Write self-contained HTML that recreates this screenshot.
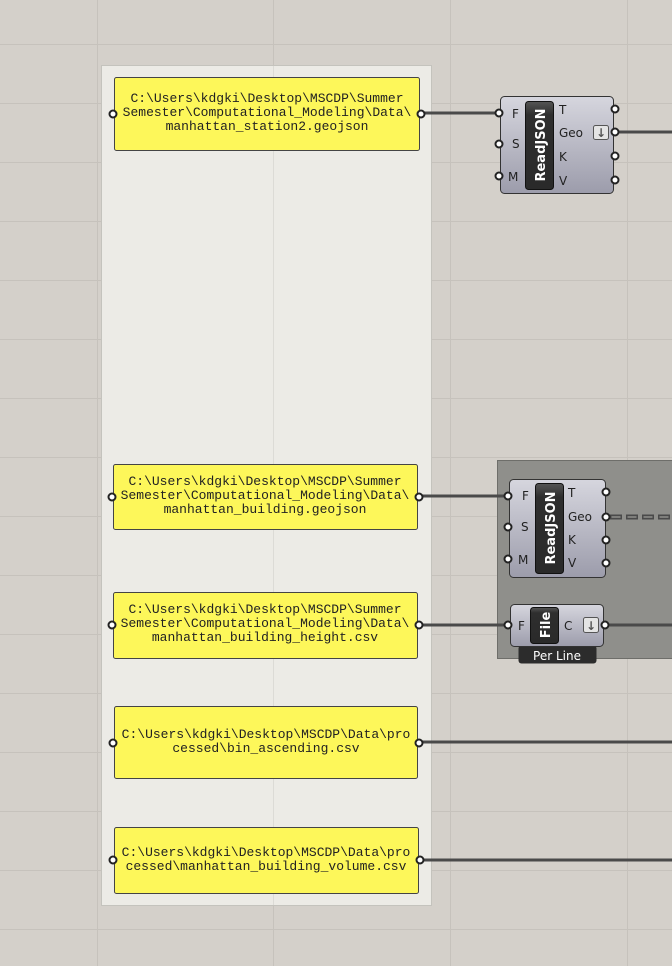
<!DOCTYPE html>
<html><head><meta charset="utf-8"><style>
html,body{margin:0;padding:0;background:#d4d0ca;}
svg{display:block}
.m{font-family:"Liberation Mono",monospace;font-size:13px;fill:#222}
.s{font-family:"DejaVu Sans","Liberation Sans",sans-serif;font-size:12px;fill:#222}
.w{font-family:"DejaVu Sans","Liberation Sans",sans-serif;font-weight:bold;font-size:13px;fill:#fff}
</style></head><body>
<svg width="672" height="966" viewBox="0 0 672 966" xmlns="http://www.w3.org/2000/svg">
<defs>
<linearGradient id="cg" x1="0" y1="0" x2="0" y2="1"><stop offset="0" stop-color="#d6d6de"/><stop offset="1" stop-color="#9c9cab"/></linearGradient>
<linearGradient id="bg" x1="0" y1="0" x2="0" y2="1"><stop offset="0" stop-color="#555"/><stop offset="0.15" stop-color="#2e2e2e"/><stop offset="1" stop-color="#2a2a2a"/></linearGradient>
</defs>
<rect width="672" height="966" fill="#d4d0ca"/>
<g stroke="#c6c2bc" stroke-width="1">
<line x1="0" y1="44.5" x2="672" y2="44.5"/><line x1="0" y1="103.5" x2="672" y2="103.5"/><line x1="0" y1="162.5" x2="672" y2="162.5"/><line x1="0" y1="221.5" x2="672" y2="221.5"/><line x1="0" y1="280.5" x2="672" y2="280.5"/><line x1="0" y1="339.5" x2="672" y2="339.5"/><line x1="0" y1="398.5" x2="672" y2="398.5"/><line x1="0" y1="457.5" x2="672" y2="457.5"/><line x1="0" y1="516.5" x2="672" y2="516.5"/><line x1="0" y1="575.5" x2="672" y2="575.5"/><line x1="0" y1="634.5" x2="672" y2="634.5"/><line x1="0" y1="693.5" x2="672" y2="693.5"/><line x1="0" y1="752.5" x2="672" y2="752.5"/><line x1="0" y1="811.5" x2="672" y2="811.5"/><line x1="0" y1="870.5" x2="672" y2="870.5"/><line x1="0" y1="929.5" x2="672" y2="929.5"/>
<line x1="97.5" y1="0" x2="97.5" y2="966"/><line x1="273.5" y1="0" x2="273.5" y2="966"/><line x1="450.5" y1="0" x2="450.5" y2="966"/><line x1="627.5" y1="0" x2="627.5" y2="966"/>
</g>
<rect x="101.5" y="65.5" width="330" height="840" fill="#ecebe6" stroke="#c4c3bd"/>
<line x1="273.5" y1="66" x2="273.5" y2="905" stroke="#dcdbd6"/>
<rect x="497.5" y="460.5" width="180" height="198" fill="#8f8f8b" stroke="#6e6e6a"/>
<g stroke="#4a4a4a" stroke-width="3" fill="none">
<path d="M422 113 L496 113"/>
<path d="M616 132 L672 132"/>
<path d="M420 496 L505 496"/>
<path d="M420 625 L506 625"/>
<path d="M605 625 L672 625"/>
<path d="M420 742 L672 742"/>
<path d="M421 860 L672 860"/>
</g>
<path d="M610 517 L672 517" stroke="#4a4a4a" stroke-width="5" stroke-dasharray="12 4" fill="none"/>
<path d="M610 517 L672 517" stroke="#8f8f8b" stroke-width="1.6" stroke-dasharray="9 7" stroke-dashoffset="-1.5" fill="none"/>
<g fill="#fdf75a" stroke="#444" stroke-width="1">
<rect x="114.5" y="77.5" width="305" height="73" rx="2"/>
<rect x="113.5" y="464.5" width="304" height="65" rx="2"/>
<rect x="113.5" y="592.5" width="304" height="66" rx="2"/>
<rect x="114.5" y="706.5" width="303" height="72" rx="2"/>
<rect x="114.5" y="827.5" width="304" height="66" rx="2"/>
</g>
<g fill="#fff" stroke="#222" stroke-width="2">
<circle cx="113" cy="114" r="3.5"/><circle cx="421" cy="114" r="3.5"/>
<circle cx="112" cy="497" r="3.5"/><circle cx="419" cy="497" r="3.5"/>
<circle cx="112" cy="625" r="3.5"/><circle cx="419" cy="625" r="3.5"/>
<circle cx="113" cy="743" r="3.5"/><circle cx="419" cy="743" r="3.5"/>
<circle cx="113" cy="860" r="3.5"/><circle cx="420" cy="860" r="3.5"/>
</g>
<g class="m" text-anchor="middle">
<text x="267" y="102">C:\Users\kdgki\Desktop\MSCDP\Summer</text>
<text x="267" y="116">Semester\Computational_Modeling\Data\</text>
<text x="267" y="130">manhattan_station2.geojson</text>
<text x="265" y="485">C:\Users\kdgki\Desktop\MSCDP\Summer</text>
<text x="265" y="499">Semester\Computational_Modeling\Data\</text>
<text x="265" y="513">manhattan_building.geojson</text>
<text x="265" y="613">C:\Users\kdgki\Desktop\MSCDP\Summer</text>
<text x="265" y="627">Semester\Computational_Modeling\Data\</text>
<text x="265" y="641">manhattan_building_height.csv</text>
<text x="266" y="738">C:\Users\kdgki\Desktop\MSCDP\Data\pro</text>
<text x="266" y="752">cessed\bin_ascending.csv</text>
<text x="266" y="856">C:\Users\kdgki\Desktop\MSCDP\Data\pro</text>
<text x="266" y="870">cessed\manhattan_building_volume.csv</text>
</g>
<rect x="500.5" y="96.5" width="113" height="97" rx="4" fill="url(#cg)" stroke="#333"/>
<rect x="525.5" y="101.5" width="28" height="88" rx="3" fill="url(#bg)" stroke="#111"/>
<text class="w" transform="translate(545,145) rotate(-90)" text-anchor="middle">ReadJSON</text>
<g class="s"><text x="512" y="118">F</text><text x="512" y="148">S</text><text x="508" y="181">M</text>
<text x="559" y="114">T</text><text x="559" y="137">Geo</text><text x="559" y="161">K</text><text x="559" y="185">V</text></g>
<rect x="593.5" y="125.5" width="15" height="14" rx="2" fill="#e4e4e4" stroke="#555"/>
<text x="601" y="137" text-anchor="middle" font-family="DejaVu Sans" font-size="12" font-weight="bold" fill="#555">↓</text>
<g fill="#fff" stroke="#222" stroke-width="2">
<circle cx="499" cy="113" r="3.5"/><circle cx="499" cy="144" r="3.5"/><circle cx="499" cy="176" r="3.5"/>
<circle cx="615" cy="109" r="3.5"/><circle cx="615" cy="132" r="3.5"/><circle cx="615" cy="156" r="3.5"/><circle cx="615" cy="180" r="3.5"/>
</g>
<rect x="509.5" y="479.5" width="96" height="98" rx="4" fill="url(#cg)" stroke="#333"/>
<rect x="535.5" y="483.5" width="28" height="90" rx="3" fill="url(#bg)" stroke="#111"/>
<text class="w" transform="translate(555,528) rotate(-90)" text-anchor="middle">ReadJSON</text>
<g class="s"><text x="522" y="500">F</text><text x="521" y="531">S</text><text x="518" y="564">M</text>
<text x="568" y="497">T</text><text x="568" y="521">Geo</text><text x="568" y="544">K</text><text x="568" y="567">V</text></g>
<g fill="#fff" stroke="#222" stroke-width="2">
<circle cx="508" cy="496" r="3.5"/><circle cx="508" cy="527" r="3.5"/><circle cx="508" cy="559" r="3.5"/>
<circle cx="606" cy="492" r="3.5"/><circle cx="606" cy="517" r="3.5"/><circle cx="606" cy="540" r="3.5"/><circle cx="606" cy="563" r="3.5"/>
</g>
<rect x="518.5" y="645.5" width="78" height="18" rx="3" fill="#2c2c2c"/>
<text x="557" y="660" text-anchor="middle" font-family="DejaVu Sans" font-size="12" fill="#fff">Per Line</text>
<rect x="510.5" y="604.5" width="93" height="42" rx="4" fill="url(#cg)" stroke="#333"/>
<rect x="530.5" y="607.5" width="28" height="36" rx="3" fill="url(#bg)" stroke="#111"/>
<text class="w" transform="translate(550,625) rotate(-90)" text-anchor="middle">File</text>
<g class="s"><text x="518" y="630">F</text><text x="564" y="630">C</text></g>
<rect x="583.5" y="617.5" width="15" height="15" rx="2" fill="#e4e4e4" stroke="#555"/>
<text x="591" y="630" text-anchor="middle" font-family="DejaVu Sans" font-size="12" font-weight="bold" fill="#555">↓</text>
<g fill="#fff" stroke="#222" stroke-width="2">
<circle cx="508" cy="625" r="3.5"/><circle cx="605" cy="625" r="3.5"/>
</g>
</svg>
</body></html>
